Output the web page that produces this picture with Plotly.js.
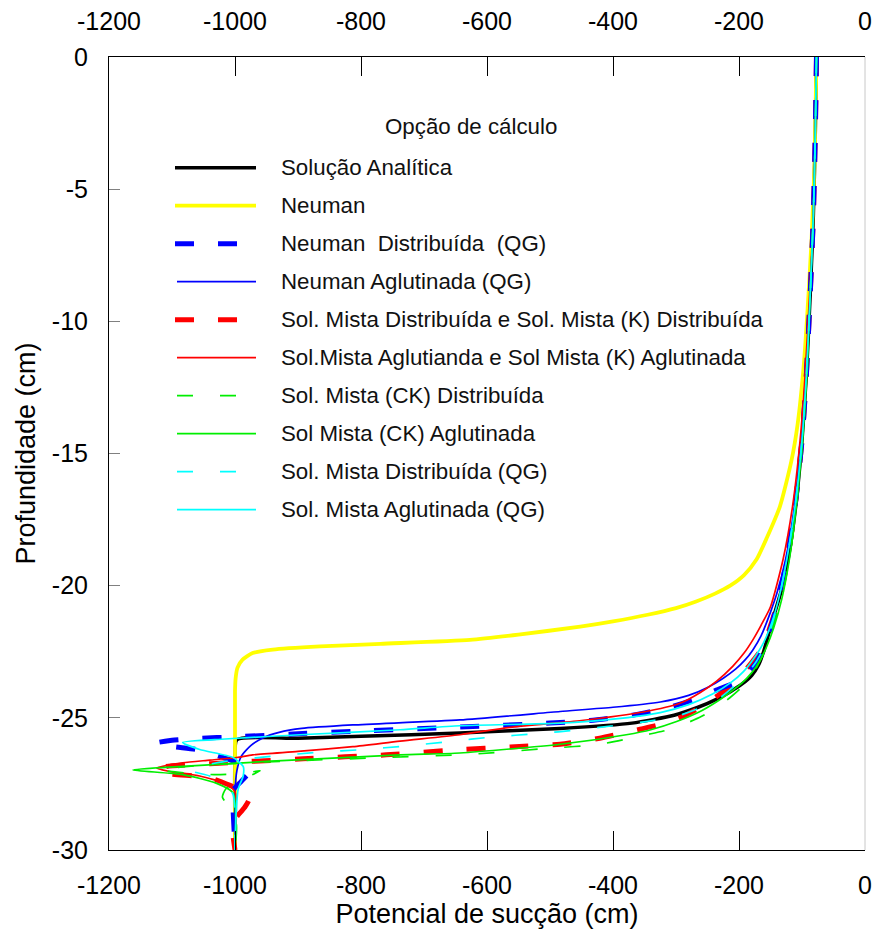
<!DOCTYPE html>
<html>
<head>
<meta charset="utf-8">
<script src="https://cdn.plot.ly/plotly-3.0.1.min.js"></script>
<style>html,body{margin:0;padding:0;background:#fff;}#chart{width:876px;height:929px;}</style>
</head>
<body>
<div id="chart"></div>
<script>
// ---- tick labels ----
const xTickVals = [-1200, -1000, -800, -600, -400, -200, 0];
const xTickText = ["-1200", "-1000", "-800", "-600", "-400", "-200", "0"];
const yTickVals = [0, -5, -10, -15, -20, -25, -30];
const yTickText = ["0", "-5", "-10", "-15", "-20", "-25", "-30"];

// ---- series names ----
const seriesNames = [
  "Solução Analítica",
  "Neuman",
  "Neuman  Distribuída  (QG)",
  "Neuman Aglutinada (QG)",
  "Sol. Mista Distribuída e Sol. Mista (K) Distribuída",
  "Sol.Mista Aglutianda e Sol Mista (K) Aglutinada",
  "Sol. Mista (CK) Distribuída",
  "Sol Mista (CK) Aglutinada",
  "Sol. Mista Distribuída (QG)",
  "Sol. Mista Aglutinada (QG)"
];

// ---- series values (x = potencial de sucção, y = profundidade) ----
const analiticaX = [-77,-79,-82,-87,-93,-100,-110,-122,-133,-143,-155,-161,-169,-180,-194,-213,-236,-265,-303,-370,-484,-643,-800,-900,-997,-1000,-1000];
const analiticaY = [0,-3,-6,-9,-12,-14.5,-17,-19,-20.2,-21,-22,-22.5,-23,-23.4,-23.7,-24.0,-24.3,-24.6,-24.9,-25.2,-25.4,-25.57,-25.7,-25.77,-25.83,-26.5,-30];

const neumanX = [-77,-80,-85,-91,-97,-107,-117,-135,-156,-172,-192,-214,-238,-268,-300,-345,-400,-452,-550,-627,-769,-865,-940,-972,-988,-996,-999,-1000,-1000];
const neumanY = [0,-4,-7,-9.5,-11.6,-13.9,-15.3,-17,-18.2,-19,-19.6,-20,-20.3,-20.6,-20.85,-21.1,-21.35,-21.55,-21.85,-22.05,-22.2,-22.3,-22.42,-22.55,-22.8,-23.1,-23.5,-24,-30];

const neumanDistX = [-77,-79,-82,-87,-93,-100,-111,-124,-137,-152,-162,-172,-186,-205,-236,-270,-310,-369,-437,-500,-643,-800,-900,-1000,-1060,-1100,-1125,-1100,-1061,-1032,-995,-975,-990,-1005,-1003,-1000];
const neumanDistY = [0,-3,-6,-9,-12,-14.5,-17,-19,-20.5,-21.8,-22.4,-22.9,-23.3,-23.65,-23.95,-24.3,-24.6,-24.9,-25.1,-25.2,-25.35,-25.5,-25.6,-25.72,-25.78,-25.85,-25.95,-26.08,-26.2,-26.4,-26.7,-26.97,-27.4,-27.8,-28.5,-30];

const neumanAglX = [-77,-79,-82,-87,-93,-101,-112,-126,-140,-150,-165,-178,-190,-205,-225,-250,-280,-325,-400,-484,-643,-813,-894,-930,-955,-975,-990,-997,-1000,-1000];
const neumanAglY = [0,-3,-6,-9,-12,-14.5,-17,-19,-20.3,-21.0,-21.9,-22.43,-22.8,-23.15,-23.5,-23.85,-24.15,-24.4,-24.6,-24.76,-25.08,-25.27,-25.4,-25.55,-25.75,-26.05,-26.45,-27.0,-27.8,-30];

const mistaDistX = [-77,-79,-82,-87,-93,-100,-111,-123,-133,-143,-157,-167,-178,-190,-205,-222,-242,-265,-294,-325,-357,-421,-484,-563,-643,-760,-892,-976,-1040,-1109,-1122,-1109,-1040,-1003,-983,-978,-985,-1005,-1003,-1000];
const mistaDistY = [0,-3,-6,-9,-12,-14.5,-17,-19,-20.2,-21,-22,-22.5,-22.85,-23.2,-23.6,-23.95,-24.3,-24.65,-25.0,-25.25,-25.43,-25.77,-26.0,-26.1,-26.2,-26.4,-26.55,-26.65,-26.74,-26.84,-26.97,-27.1,-27.27,-27.6,-27.8,-28.1,-28.4,-29.0,-29.5,-30];

const mistaAglX = [-77,-79,-82,-88,-95,-103,-115,-130,-150,-165,-178,-192,-210,-235,-262,-294,-352,-450,-560,-643,-738,-813,-900,-972,-997,-1040,-1083,-1124,-1100,-1056,-1014,-1000,-1000];
const mistaAglY = [0,-3,-6,-9,-12,-14.5,-17,-19,-20.8,-21.5,-22.05,-22.55,-23.05,-23.6,-24.05,-24.45,-24.78,-25.1,-25.35,-25.64,-25.88,-26.09,-26.27,-26.4,-26.5,-26.6,-26.7,-26.9,-27.05,-27.2,-27.5,-27.8,-30];

const ckDistX = [-77,-79,-82,-87,-92,-99,-109,-120,-133,-150,-160,-170,-182,-198,-215,-235,-260,-289,-320,-347,-421,-500,-627,-760,-900,-1000,-1080,-1120,-1080,-1030,-985,-960,-990,-1015,-1020,-1012,-998,-1000];
const ckDistY = [0,-3,-6,-9,-12,-14.5,-17,-19,-20.5,-21.8,-22.5,-23.0,-23.5,-23.9,-24.25,-24.6,-24.95,-25.26,-25.5,-25.64,-26.0,-26.15,-26.38,-26.5,-26.62,-26.72,-26.85,-26.97,-27.08,-27.15,-27.1,-27.0,-27.35,-27.7,-28.0,-28.3,-29.0,-30];

const ckAglX = [-77,-79,-82,-87,-92,-99,-109,-120,-132,-145,-156,-167,-180,-196,-215,-236,-265,-299,-340,-379,-484,-643,-738,-950,-1083,-1162,-1083,-1030,-1003,-1000];
const ckAglY = [0,-3,-6,-9,-12,-14.5,-17,-19,-20.5,-21.6,-22.3,-22.85,-23.3,-23.7,-24.05,-24.4,-24.8,-25.14,-25.45,-25.64,-26.0,-26.33,-26.4,-26.65,-26.84,-26.97,-27.15,-27.47,-27.84,-30];

const qgDistX = [-77,-79,-82,-87,-93,-100,-111,-124,-137,-148,-160,-172,-186,-205,-228,-260,-300,-350,-400,-453,-520,-590,-660,-727,-797,-866,-935,-1000,-1050,-1070,-1040,-1016,-1003,-1000];
const qgDistY = [0,-3,-6,-9,-12,-14.5,-17,-19,-20.5,-21.5,-22.3,-22.85,-23.3,-23.75,-24.2,-24.6,-24.95,-25.15,-25.3,-25.45,-25.6,-25.72,-25.9,-26.06,-26.2,-26.3,-26.44,-26.6,-26.8,-27.0,-27.2,-27.5,-27.9,-30];

const qgAglX = [-77,-79,-82,-87,-93,-100,-111,-124,-137,-148,-162,-178,-193,-212,-242,-280,-325,-400,-484,-643,-738,-897,-1016,-1083,-1056,-1003,-987,-987,-995,-998,-1000];
const qgAglY = [0,-3,-6,-9,-12,-14.5,-17,-19,-20.5,-21.4,-22.2,-22.8,-23.25,-23.65,-24.1,-24.5,-24.8,-25.05,-25.2,-25.3,-25.45,-25.64,-25.8,-25.93,-26.2,-26.5,-26.84,-27.2,-27.7,-28.5,-30];

const seriesX = [analiticaX, neumanX, neumanDistX, neumanAglX, mistaDistX, mistaAglX, ckDistX, ckAglX, qgDistX, qgAglX];
const seriesY = [analiticaY, neumanY, neumanDistY, neumanAglY, mistaDistY, mistaAglY, ckDistY, ckAglY, qgDistY, qgAglY];

// ---- styles ----
const styles = [
  {color: "#000000", width: 3.5, dash: "solid"},
  {color: "#ffff00", width: 3.8, dash: "solid"},
  {color: "#0000ff", width: 5, dash: "19px,24px"},
  {color: "#0000ff", width: 1.7, dash: "solid"},
  {color: "#ff0000", width: 5, dash: "19px,24px"},
  {color: "#ff0000", width: 1.7, dash: "solid"},
  {color: "#00ee00", width: 1.7, dash: "16px,27px"},
  {color: "#00ee00", width: 1.7, dash: "solid"},
  {color: "#00ffff", width: 1.7, dash: "16px,27px"},
  {color: "#00ffff", width: 1.7, dash: "solid"}
];
// drawing order (red dashed beneath blue dashed)
const drawOrder = [0, 1, 4, 2, 3, 5, 6, 7, 8, 9];

const traces = drawOrder.map(i => ({
  type: "scatter",
  mode: "lines",
  name: seriesNames[i],
  x: seriesX[i],
  y: seriesY[i],
  line: {color: styles[i].color, width: styles[i].width, dash: styles[i].dash, shape: "spline", smoothing: 0.6},
  showlegend: false,
  hoverinfo: "x+y+name"
}));
// empty trace to activate the top axis
traces.push({type: "scatter", mode: "lines", x: [null], y: [null], xaxis: "x2", showlegend: false, hoverinfo: "skip"});

// ---- geometry for manual legend ----
const L = 109, T = 57, W = 756, H = 793;
const px2x = p => (p - L) / W;
const px2y = p => 1 - (p - T) / H;
const legendRowStart = 167.7, legendRowStep = 38;
const legendFont = 22.3;
const shapes = [];
const annotations = [];
seriesNames.forEach((name, i) => {
  const yy = px2y(legendRowStart + i * legendRowStep);
  const thick = styles[i].width > 3;
  shapes.push({
    type: "line", xref: "paper", yref: "paper",
    x0: px2x(thick ? 175 : 177), x1: px2x(256), y0: yy, y1: yy,
    line: {color: styles[i].color, width: styles[i].width, dash: styles[i].dash}
  });
  annotations.push({
    xref: "paper", yref: "paper", x: px2x(279), y: yy,
    xanchor: "left", yanchor: "middle", showarrow: false,
    text: name, font: {size: legendFont, color: "#111"}
  });
});
annotations.push({
  xref: "paper", yref: "paper", x: px2x(383), y: px2y(126),
  xanchor: "left", yanchor: "middle", showarrow: false,
  text: "Opção de cálculo", font: {size: legendFont, color: "#111"}
});
// right frame line (light gray)
shapes.push({type: "line", xref: "paper", yref: "paper", x0: 1, x1: 1, y0: 0, y1: 1, line: {color: "#c8c8c8", width: 1}});

const layout = {
  width: 876, height: 929,
  margin: {l: L, r: 876 - L - W, t: T, b: 929 - T - H},
  paper_bgcolor: "#fff", plot_bgcolor: "#fff",
  font: {family: "Liberation Sans, Arial, sans-serif", color: "#000"},
  showlegend: false,
  xaxis: {
    range: [-1200, 0], tickvals: xTickVals, ticktext: xTickText,
    ticks: "inside", ticklen: 19, tickcolor: "#000", tickwidth: 1,
    showline: true, linecolor: "#000", linewidth: 1, showgrid: false, zeroline: false,
    tickfont: {size: 25}, ticklabelstandoff: 13,
    title: {text: "Potencial de sucção (cm)", font: {size: 27}, standoff: 12},
    automargin: false
  },
  xaxis2: {
    overlaying: "x", side: "top", anchor: "y", matches: "x",
    range: [-1200, 0], tickvals: xTickVals, ticktext: xTickText,
    ticks: "inside", ticklen: 19, tickcolor: "#000", tickwidth: 1,
    showline: true, linecolor: "#000", linewidth: 1, showgrid: false, zeroline: false,
    tickfont: {size: 25}, ticklabelstandoff: 16, automargin: false
  },
  yaxis: {
    range: [-30, 0], tickvals: yTickVals, ticktext: yTickText,
    ticks: "inside", ticklen: 11, tickcolor: "#808080", tickwidth: 1,
    showline: true, linecolor: "#000", linewidth: 1, showgrid: false, zeroline: false,
    tickfont: {size: 25}, ticklabelstandoff: 15,
    title: {text: "Profundidade (cm)", font: {size: 27}, standoff: 8},
    automargin: false
  },
  shapes: shapes,
  annotations: annotations
};

Plotly.newPlot("chart", traces, layout, {displayModeBar: false, staticPlot: true});
</script>
</body>
</html>
